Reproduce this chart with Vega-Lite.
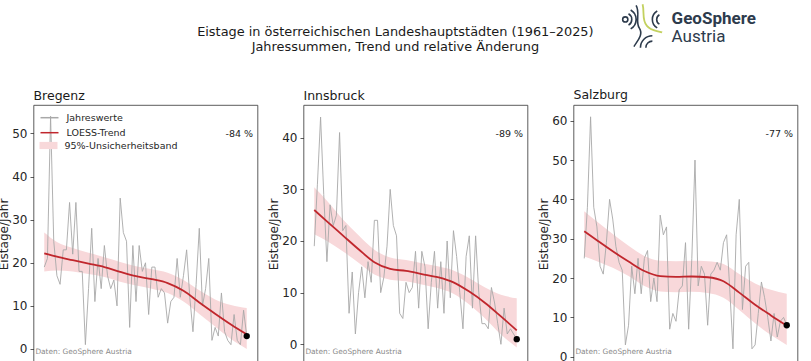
{
  "$schema": "https://vega.github.io/schema/vega-lite/v6.json",
  "background": "white",
  "padding": {"left": -3.5, "top": 0, "right": 0, "bottom": 0},
  "title": {
    "text": ["Eistage in österreichischen Landeshauptstädten (1961–2025)", "Jahressummen, Trend und relative Änderung"],
    "anchor": "middle",
    "frame": "bounds",
    "fontSize": 12.9,
    "lineHeight": 15.5,
    "offset": 33,
    "dx": -2,
    "dy": 87
  },
  "datasets": {
    "jahre": [
      {"year": 1961, "B": 19, "I": 19, "S": 25},
      {"year": 1962, "B": 21, "I": 31, "S": 38},
      {"year": 1963, "B": 54, "I": 44, "S": 61},
      {"year": 1964, "B": 25, "I": 29, "S": 38},
      {"year": 1965, "B": 17, "I": 16, "S": 33},
      {"year": 1966, "B": 15, "I": 27, "S": 23},
      {"year": 1967, "B": 23, "I": 23, "S": 21},
      {"year": 1968, "B": 23, "I": 25, "S": 29},
      {"year": 1969, "B": 34, "I": 41, "S": 40},
      {"year": 1970, "B": 22, "I": 22, "S": 35},
      {"year": 1971, "B": 34, "I": 23, "S": 28},
      {"year": 1972, "B": 18, "I": 6, "S": 24},
      {"year": 1973, "B": 18, "I": 14, "S": 22},
      {"year": 1974, "B": 1, "I": 2, "S": 3},
      {"year": 1975, "B": 14, "I": 10, "S": 8},
      {"year": 1976, "B": 28, "I": 15, "S": 23},
      {"year": 1977, "B": 11, "I": 9, "S": 16},
      {"year": 1978, "B": 21, "I": 16, "S": 25},
      {"year": 1979, "B": 14, "I": 12, "S": 16},
      {"year": 1980, "B": 24, "I": 24, "S": 25},
      {"year": 1981, "B": 17, "I": 24, "S": 27},
      {"year": 1982, "B": 14, "I": 10, "S": 14},
      {"year": 1983, "B": 16, "I": 13, "S": 20},
      {"year": 1984, "B": 10, "I": 19, "S": 14},
      {"year": 1985, "B": 35, "I": 30, "S": 36},
      {"year": 1986, "B": 27, "I": 23, "S": 31},
      {"year": 1987, "B": 25, "I": 21, "S": 33},
      {"year": 1988, "B": 5, "I": 6, "S": 7},
      {"year": 1989, "B": 24, "I": 5, "S": 11},
      {"year": 1990, "B": 11, "I": 12, "S": 9},
      {"year": 1991, "B": 24, "I": 10, "S": 17},
      {"year": 1992, "B": 18, "I": 11, "S": 18},
      {"year": 1993, "B": 20, "I": 18, "S": 29},
      {"year": 1994, "B": 8, "I": 7, "S": 7},
      {"year": 1995, "B": 19, "I": 18, "S": 25},
      {"year": 1996, "B": 19, "I": 15, "S": 50},
      {"year": 1997, "B": 12, "I": 3, "S": 18},
      {"year": 1998, "B": 14, "I": 12, "S": 23},
      {"year": 1999, "B": 13, "I": 18, "S": 21},
      {"year": 2000, "B": 6, "I": 7, "S": 8},
      {"year": 2001, "B": 11, "I": 16, "S": 21},
      {"year": 2002, "B": 12, "I": 6, "S": 22},
      {"year": 2003, "B": 21, "I": 20, "S": 24},
      {"year": 2004, "B": 12, "I": 9, "S": 22},
      {"year": 2005, "B": 17, "I": 22, "S": 29},
      {"year": 2006, "B": 23, "I": 17, "S": 31},
      {"year": 2007, "B": 12, "I": 10, "S": 17},
      {"year": 2008, "B": 4, "I": 3, "S": 2},
      {"year": 2009, "B": 15, "I": 17, "S": 31},
      {"year": 2010, "B": 28, "I": 21, "S": 40},
      {"year": 2011, "B": 10, "I": 7, "S": 12},
      {"year": 2012, "B": 14, "I": 21, "S": 23},
      {"year": 2013, "B": 21, "I": 10, "S": 24},
      {"year": 2014, "B": 2, "I": 4, "S": 2},
      {"year": 2015, "B": 5, "I": 4, "S": 3},
      {"year": 2016, "B": 3, "I": 3, "S": 11},
      {"year": 2017, "B": 13, "I": 11, "S": 19},
      {"year": 2018, "B": 4, "I": 8, "S": 15},
      {"year": 2019, "B": 2, "I": 4, "S": 10},
      {"year": 2020, "B": 1, "I": 0, "S": 4},
      {"year": 2021, "B": 8, "I": 7, "S": 11},
      {"year": 2022, "B": 2, "I": 2, "S": 5},
      {"year": 2023, "B": 1, "I": 3, "S": 9},
      {"year": 2024, "B": 9, "I": 2, "S": 10},
      {"year": 2025, "B": 3, "I": 1, "S": 8}
    ],
    "trend": [
      {"year": 1961, "B": 22.2, "B_lo": 18.0, "B_hi": 27.0, "I": 26.0, "I_lo": 21.3, "I_hi": 30.4, "S": 31.9, "S_lo": 25.5, "S_hi": 37.0},
      {"year": 1965, "B": 21.4, "B_lo": 18.2, "B_hi": 24.8, "I": 23.8, "I_lo": 20.0, "I_hi": 27.8, "S": 29.6, "S_lo": 24.3, "S_hi": 34.4},
      {"year": 1970, "B": 20.6, "B_lo": 18.0, "B_hi": 23.4, "I": 21.1, "I_lo": 18.0, "I_hi": 24.2, "S": 26.8, "S_lo": 22.6, "S_hi": 31.2},
      {"year": 1975, "B": 19.8, "B_lo": 17.4, "B_hi": 22.3, "I": 18.4, "I_lo": 15.8, "I_hi": 21.1, "S": 24.2, "S_lo": 20.5, "S_hi": 28.2},
      {"year": 1980, "B": 19.0, "B_lo": 16.7, "B_hi": 21.3, "I": 15.9, "I_lo": 13.5, "I_hi": 18.3, "S": 21.8, "S_lo": 18.0, "S_hi": 25.6},
      {"year": 1985, "B": 17.9, "B_lo": 15.6, "B_hi": 20.2, "I": 14.6, "I_lo": 12.5, "I_hi": 16.8, "S": 20.5, "S_lo": 16.6, "S_hi": 24.4},
      {"year": 1990, "B": 16.9, "B_lo": 14.7, "B_hi": 19.2, "I": 14.2, "I_lo": 12.2, "I_hi": 16.3, "S": 20.3, "S_lo": 16.4, "S_hi": 24.3},
      {"year": 1995, "B": 16.2, "B_lo": 14.0, "B_hi": 18.5, "I": 13.6, "I_lo": 11.6, "I_hi": 15.7, "S": 20.4, "S_lo": 16.5, "S_hi": 24.4},
      {"year": 2000, "B": 15.3, "B_lo": 13.0, "B_hi": 17.7, "I": 13.0, "I_lo": 10.9, "I_hi": 15.1, "S": 20.2, "S_lo": 16.2, "S_hi": 24.3},
      {"year": 2005, "B": 13.5, "B_lo": 11.0, "B_hi": 16.0, "I": 12.0, "I_lo": 9.8, "I_hi": 14.3, "S": 19.2, "S_lo": 15.0, "S_hi": 23.6},
      {"year": 2010, "B": 10.8, "B_lo": 8.1, "B_hi": 13.6, "I": 10.2, "I_lo": 7.7, "I_hi": 12.8, "S": 16.3, "S_lo": 11.9, "S_hi": 21.0},
      {"year": 2015, "B": 8.2, "B_lo": 5.2, "B_hi": 11.5, "I": 8.0, "I_lo": 5.0, "I_hi": 11.0, "S": 13.2, "S_lo": 8.5, "S_hi": 18.6},
      {"year": 2020, "B": 5.7, "B_lo": 2.3, "B_hi": 10.2, "I": 5.4, "I_lo": 1.9, "I_hi": 9.6, "S": 10.5, "S_lo": 5.5, "S_hi": 17.0},
      {"year": 2025, "B": 3.4, "B_lo": 0.0, "B_hi": 9.5, "I": 2.7, "I_lo": -0.6, "I_hi": 8.9, "S": 7.9, "S_lo": 3.0, "S_hi": 16.0}
    ],
    "meta": [
      {"city": "Bregenz", "change": "-84 %", "source": "Daten: GeoSphere Austria"},
      {"city": "Innsbruck", "change": "-89 %", "source": "Daten: GeoSphere Austria"},
      {"city": "Salzburg", "change": "-77 %", "source": "Daten: GeoSphere Austria"}
    ]
  },
  "bounds": "flush",
  "spacing": 46,
  "resolve": {"scale": {"x": "independent", "y": "independent", "stroke": "independent", "fill": "independent"}},
  "hconcat": [
    {
      "width": 224,
      "height": 258,
      "title": {"text": "Bregenz"},
      "layer": [
        {
          "data": {"name": "trend"},
          "mark": {"type": "area", "interpolate": "monotone"},
          "encoding": {
            "x": {"field": "year", "type": "quantitative", "scale": {"domain": [1957.6, 2028.4], "nice": false, "zero": false}, "axis": null},
            "y": {"field": "B_lo", "type": "quantitative", "scale": {"domain": [-3.25, 56.6], "nice": false, "zero": false}, "axis": {"values": [0, 10, 20, 30, 40, 50], "title": "Eistage/Jahr"}},
            "y2": {"field": "B_hi"},
            "fill": {"datum": "95%-Unsicherheitsband", "scale": {"domain": ["95%-Unsicherheitsband"], "range": ["#f8d8da"]},
              "legend": {"orient": "none", "legendX": 6, "legendY": 31.5, "title": null, "symbolType": "M-1,-0.4H1V0.4H-1Z", "symbolSize": 324, "symbolStrokeWidth": 0, "labelOffset": 7, "padding": 0}}
          }
        },
        {
          "data": {"name": "jahre"},
          "mark": {"type": "line", "strokeWidth": 0.9},
          "encoding": {
            "x": {"field": "year", "type": "quantitative"},
            "y": {"field": "B", "type": "quantitative"},
            "stroke": {"datum": "Jahreswerte", "scale": {"domain": ["Jahreswerte", "LOESS-Trend"], "range": ["#a8a8a8", "#c0272d"]},
              "legend": {"orient": "none", "legendX": 6, "legendY": 2.7, "title": null, "symbolType": "stroke", "symbolSize": 324, "symbolStrokeWidth": 1.5, "labelOffset": 7, "rowPadding": 0, "padding": 0}}
          }
        },
        {
          "data": {"name": "trend"},
          "mark": {"type": "line", "strokeWidth": 1.8, "interpolate": "monotone"},
          "encoding": {"x": {"field": "year", "type": "quantitative"}, "y": {"field": "B", "type": "quantitative"}, "stroke": {"datum": "LOESS-Trend"}}
        },
        {
          "data": {"name": "jahre"},
          "transform": [{"filter": "datum.year == 2025"}],
          "mark": {"type": "point", "filled": true, "color": "black", "opacity": 1, "size": 40},
          "encoding": {"x": {"field": "year", "type": "quantitative"}, "y": {"field": "B", "type": "quantitative"}}
        },
        {
          "data": {"name": "meta"},
          "transform": [{"filter": "datum.city == 'Bregenz'"}],
          "mark": {"type": "text", "align": "right", "baseline": "middle", "fontSize": 9.5, "color": "#222"},
          "encoding": {"x": {"datum": 2027}, "y": {"datum": 49.9}, "text": {"field": "change"}}
        },
        {
          "data": {"name": "meta"},
          "transform": [{"filter": "datum.city == 'Bregenz'"}],
          "mark": {"type": "text", "align": "left", "baseline": "middle", "fontSize": 7.4, "color": "#8a8a8a"},
          "encoding": {"x": {"datum": 1958.2}, "y": {"datum": -0.6}, "text": {"field": "source"}}
        }
      ]
    },
    {
      "width": 224,
      "height": 258,
      "title": {"text": "Innsbruck"},
      "layer": [
        {
          "data": {"name": "trend"},
          "mark": {"type": "area", "interpolate": "monotone"},
          "encoding": {
            "x": {"field": "year", "type": "quantitative", "scale": {"domain": [1957.6, 2028.4], "nice": false, "zero": false}, "axis": null},
            "y": {"field": "I_lo", "type": "quantitative", "scale": {"domain": [-3.62, 46.33], "nice": false, "zero": false}, "axis": {"values": [0, 10, 20, 30, 40], "title": "Eistage/Jahr"}},
            "y2": {"field": "I_hi"},
            "fill": {"datum": "95%-Unsicherheitsband", "scale": {"domain": ["95%-Unsicherheitsband"], "range": ["#f8d8da"]}, "legend": null}
          }
        },
        {
          "data": {"name": "jahre"},
          "mark": {"type": "line", "strokeWidth": 0.9},
          "encoding": {
            "x": {"field": "year", "type": "quantitative"},
            "y": {"field": "I", "type": "quantitative"},
            "stroke": {"datum": "Jahreswerte", "scale": {"domain": ["Jahreswerte", "LOESS-Trend"], "range": ["#a8a8a8", "#c0272d"]}, "legend": null}
          }
        },
        {
          "data": {"name": "trend"},
          "mark": {"type": "line", "strokeWidth": 1.8, "interpolate": "monotone"},
          "encoding": {"x": {"field": "year", "type": "quantitative"}, "y": {"field": "I", "type": "quantitative"}, "stroke": {"datum": "LOESS-Trend"}}
        },
        {
          "data": {"name": "jahre"},
          "transform": [{"filter": "datum.year == 2025"}],
          "mark": {"type": "point", "filled": true, "color": "black", "opacity": 1, "size": 40},
          "encoding": {"x": {"field": "year", "type": "quantitative"}, "y": {"field": "I", "type": "quantitative"}}
        },
        {
          "data": {"name": "meta"},
          "transform": [{"filter": "datum.city == 'Innsbruck'"}],
          "mark": {"type": "text", "align": "right", "baseline": "middle", "fontSize": 9.5, "color": "#222"},
          "encoding": {"x": {"datum": 2027}, "y": {"datum": 40.7}, "text": {"field": "change"}}
        },
        {
          "data": {"name": "meta"},
          "transform": [{"filter": "datum.city == 'Innsbruck'"}],
          "mark": {"type": "text", "align": "left", "baseline": "middle", "fontSize": 7.4, "color": "#8a8a8a"},
          "encoding": {"x": {"datum": 1958.2}, "y": {"datum": -1.4}, "text": {"field": "source"}}
        }
      ]
    },
    {
      "width": 224,
      "height": 258,
      "title": {"text": "Salzburg", "dy": 104},
      "layer": [
        {
          "data": {"name": "trend"},
          "mark": {"type": "area", "interpolate": "monotone"},
          "encoding": {
            "x": {"field": "year", "type": "quantitative", "scale": {"domain": [1957.6, 2028.4], "nice": false, "zero": false}, "axis": null},
            "y": {"field": "S_lo", "type": "quantitative", "scale": {"domain": [-1.6, 64], "nice": false, "zero": false}, "axis": {"values": [0, 10, 20, 30, 40, 50, 60], "title": "Eistage/Jahr"}},
            "y2": {"field": "S_hi"},
            "fill": {"datum": "95%-Unsicherheitsband", "scale": {"domain": ["95%-Unsicherheitsband"], "range": ["#f8d8da"]}, "legend": null}
          }
        },
        {
          "data": {"name": "jahre"},
          "mark": {"type": "line", "strokeWidth": 0.9},
          "encoding": {
            "x": {"field": "year", "type": "quantitative"},
            "y": {"field": "S", "type": "quantitative"},
            "stroke": {"datum": "Jahreswerte", "scale": {"domain": ["Jahreswerte", "LOESS-Trend"], "range": ["#a8a8a8", "#c0272d"]}, "legend": null}
          }
        },
        {
          "data": {"name": "trend"},
          "mark": {"type": "line", "strokeWidth": 1.8, "interpolate": "monotone"},
          "encoding": {"x": {"field": "year", "type": "quantitative"}, "y": {"field": "S", "type": "quantitative"}, "stroke": {"datum": "LOESS-Trend"}}
        },
        {
          "data": {"name": "jahre"},
          "transform": [{"filter": "datum.year == 2025"}],
          "mark": {"type": "point", "filled": true, "color": "black", "opacity": 1, "size": 40},
          "encoding": {"x": {"field": "year", "type": "quantitative"}, "y": {"field": "S", "type": "quantitative"}}
        },
        {
          "data": {"name": "meta"},
          "transform": [{"filter": "datum.city == 'Salzburg'"}],
          "mark": {"type": "text", "align": "right", "baseline": "middle", "fontSize": 9.5, "color": "#222"},
          "encoding": {"x": {"datum": 2027}, "y": {"datum": 56.6}, "text": {"field": "change"}}
        },
        {
          "data": {"name": "meta"},
          "transform": [{"filter": "datum.city == 'Salzburg'"}],
          "mark": {"type": "text", "align": "left", "baseline": "middle", "fontSize": 7.4, "color": "#8a8a8a"},
          "encoding": {"x": {"datum": 1958.2}, "y": {"datum": 1.27}, "text": {"field": "source"}}
        },
        {
          "data": {"values": [{"logo": "GeoSphere"}]},
          "mark": {"type": "text", "align": "left", "baseline": "alphabetic", "font": "Roboto", "fontWeight": "bold", "fontSize": 17, "color": "#2d3b4c"},
          "encoding": {"x": {"datum": 1988.6}, "y": {"datum": 84.6}, "text": {"field": "logo"}}
        },
        {
          "data": {"values": [{"logo": "Austria"}]},
          "mark": {"type": "text", "align": "left", "baseline": "alphabetic", "font": "Roboto", "fontWeight": "normal", "fontSize": 17, "color": "#2d3b4c"},
          "encoding": {"x": {"datum": 1988.6}, "y": {"datum": 80.0}, "text": {"field": "logo"}}
        },
        {
          "data": {"values": [{"logo": "icon"}]},
          "mark": {"type": "point", "filled": false, "strokeWidth": 1.6, "color": "#2d3b4c", "opacity": 1, "size": 1880,
            "shape": "M-0.63,-0.3A0.12,0.12 0 1,1 -0.87,-0.3A0.12,0.12 0 1,1 -0.63,-0.3M-0.6,-0.56A0.3,0.3 0 0,1 -0.6,-0.04M-0.5,-0.733A0.5,0.5 0 0,1 -0.5,0.133M-0.25,-0.95C-0.05,-0.6 -0.3,-0.2 -0.1,0.1C0.1,0.4 -0.2,0.7 -0.35,0.95M0.825,-0.517A0.25,0.25 0 0,0 0.825,-0.083M0.725,-0.69A0.45,0.45 0 0,0 0.725,0.09M0.2,1A0.3,0.3 0 0,1 0.5,0.7M-0.05,1A0.55,0.55 0 0,1 0.5,0.45"},
          "encoding": {"x": {"datum": 1979.1}, "y": {"datum": 84.1}}
        },
        {
          "data": {"values": [{"logo": "icon"}]},
          "mark": {"type": "point", "filled": false, "strokeWidth": 1.8, "color": "#c3d15f", "opacity": 1, "size": 1880,
            "shape": "M0.05,-1C0.15,-0.6 0,-0.3 0.25,0C0.45,0.25 0.7,0.2 0.95,0.3"},
          "encoding": {"x": {"datum": 1979.1}, "y": {"datum": 84.1}}
        }
      ]
    }
  ],
  "config": {
    "font": "DejaVu Sans",
    "view": {"stroke": "#333333", "strokeWidth": 0.8},
    "title": {"font": "DejaVu Sans", "fontSize": 12.5, "fontWeight": "normal", "color": "#1a1a1a", "anchor": "start", "frame": "group", "offset": 3},
    "axis": {
      "labelFont": "DejaVu Sans", "labelFontSize": 12, "labelColor": "#262626",
      "titleFont": "DejaVu Sans", "titleFontSize": 12, "titleFontWeight": "normal", "titleColor": "#262626",
      "tickColor": "#333333", "tickSize": 3.5, "tickWidth": 0.8, "labelPadding": 3, "titlePadding": 1.5,
      "domain": false, "grid": false
    },
    "legend": {"labelFont": "DejaVu Sans", "labelFontSize": 9.5, "labelColor": "#262626"}
  }
}
